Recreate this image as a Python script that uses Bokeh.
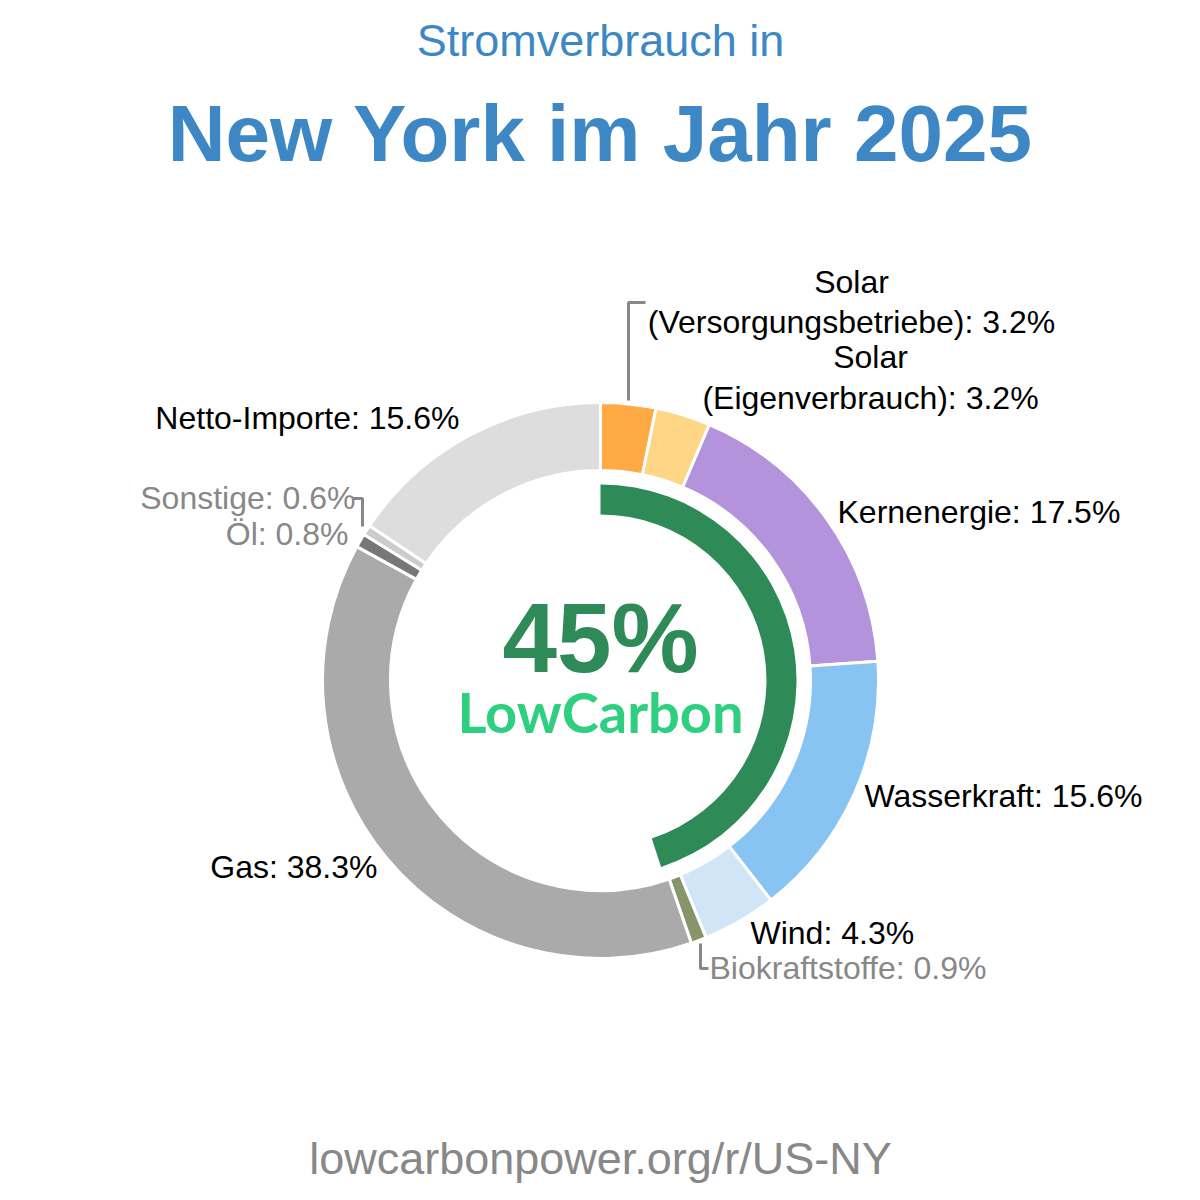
import math
from bokeh.plotting import figure
from bokeh.models import Range1d, ColumnDataSource
from bokeh.core.properties import value
from bokeh.embed import file_html
from bokeh.resources import INLINE

# ---- data ----
sources = ["Solar (Versorgungsbetriebe)", "Solar (Eigenverbrauch)", "Kernenergie",
           "Wasserkraft", "Wind", "Biokraftstoffe", "Gas", "Öl", "Sonstige", "Netto-Importe"]
shares = [3.2, 3.2, 17.5, 15.6, 4.3, 0.9, 38.3, 0.8, 0.6, 15.6]
colors = ["#ffaa44", "#fed686", "#b393dc", "#88c4f2", "#d0e6f7", "#86966a",
          "#aaaaaa", "#777777", "#cccccc", "#dddddd"]
label_texts = ["Solar\n(Versorgungsbetriebe): 3.2%", "Solar\n(Eigenverbrauch): 3.2%",
               "Kernenergie: 17.5%", "Wasserkraft: 15.6%", "Wind: 4.3%",
               "Biokraftstoffe: 0.9%", "Gas: 38.3%", "Öl: 0.8%", "Sonstige: 0.6%",
               "Netto-Importe: 15.6%"]
low_carbon_share = 45
title_line1 = "Stromverbrauch in"
title_line2 = "New York im Jahr 2025"
footer = "lowcarbonpower.org/r/US-NY"

W = H = 1200
CX, CY = 600, 1200 - 680
FONT = value("Liberation Sans")

p = figure(width=W, height=H, x_range=Range1d(0, W), y_range=Range1d(0, H),
           output_backend="svg", toolbar_location=None, min_border=0)
p.axis.visible = False
p.grid.visible = False
p.outline_line_color = None
p.background_fill_color = "white"
p.border_fill_color = "white"

# ---- donut ----
total = sum(shares)
starts, ends = [], []
cum = 0.0
for s in shares:
    starts.append(math.pi / 2 - cum / total * 2 * math.pi)
    cum += s
    ends.append(math.pi / 2 - cum / total * 2 * math.pi)
src = ColumnDataSource(dict(start=starts, end=ends, color=colors, name=sources))
p.annular_wedge(x=CX, y=CY, inner_radius=210, outer_radius=278,
                start_angle="start", end_angle="end", direction="clock",
                fill_color="color", line_color="white", line_width=3, source=src)

# ---- low-carbon arc ----
p.annular_wedge(x=CX, y=CY, inner_radius=166, outer_radius=196,
                start_angle=math.pi / 2,
                end_angle=math.pi / 2 - low_carbon_share / 100 * 2 * math.pi,
                direction="clock", fill_color="#2e8b57", line_color=None)

# ---- labels (pixel positions: x, y-center, align) ----
def Y(py):
    return H - py

label_pos = {
    "Solar (Versorgungsbetriebe)": [(851, 281, "center"), (851, 321, "center")],
    "Solar (Eigenverbrauch)": [(870, 356, "center"), (870, 397, "center")],
    "Kernenergie": [(837, 511, "left")],
    "Wasserkraft": [(864, 795, "left")],
    "Wind": [(750, 932, "left")],
    "Biokraftstoffe": [(709, 967, "left")],
    "Gas": [(377, 866, "right")],
    "Öl": [(348, 533, "right")],
    "Sonstige": [(355, 497, "right")],
    "Netto-Importe": [(459, 417, "right")],
}
minor = {"Biokraftstoffe", "Öl", "Sonstige"}
for name, txt in zip(sources, label_texts):
    lines = txt.split("\n")
    for (lx, ly, al), line in zip(label_pos[name], lines):
        p.text(x=[lx], y=[Y(ly)], text=[line], text_align=al, text_baseline="middle",
               text_font=FONT, text_font_size="32px",
               text_color="#888888" if name in minor else "#000000")

# leader lines
leader_color = "#888888"
p.line(x=[628, 628, 645], y=[Y(400), Y(302), Y(302)], line_color=leader_color, line_width=3)
p.line(x=[352, 362, 362], y=[Y(498), Y(498), Y(526)], line_color=leader_color, line_width=3)
p.line(x=[700, 700, 708], y=[Y(943), Y(968), Y(968)], line_color=leader_color, line_width=3)

# ---- center text ----
p.text(x=[CX], y=[Y(637)], text=[f"{low_carbon_share}%"], text_align="center",
       text_baseline="alphabetic", text_font=value("Liberation Sans"),
       text_font_style="bold", text_font_size="98px", text_color="#2e8b57")
p.text(x=[CX], y=[Y(711)], text=["LowCarbon"], text_align="center",
       text_baseline="alphabetic", text_font=value("Lato"),
       text_font_style="bold", text_font_size="56px", text_color="#2ecf80")

# ---- titles ----
p.text(x=[CX], y=[Y(40)], text=[title_line1], text_align="center", text_baseline="middle",
       text_font=FONT, text_font_size="45px", text_color="#3d88c4")
p.text(x=[CX], y=[Y(133)], text=[title_line2], text_align="center", text_baseline="middle",
       text_font=FONT, text_font_style="bold", text_font_size="80px", text_color="#3d88c4")
p.text(x=[CX], y=[Y(1158)], text=[footer], text_align="center", text_baseline="middle",
       text_font=FONT, text_font_size="45px", text_color="#888888")

open("out.html", "w").write(file_html(p, INLINE))
